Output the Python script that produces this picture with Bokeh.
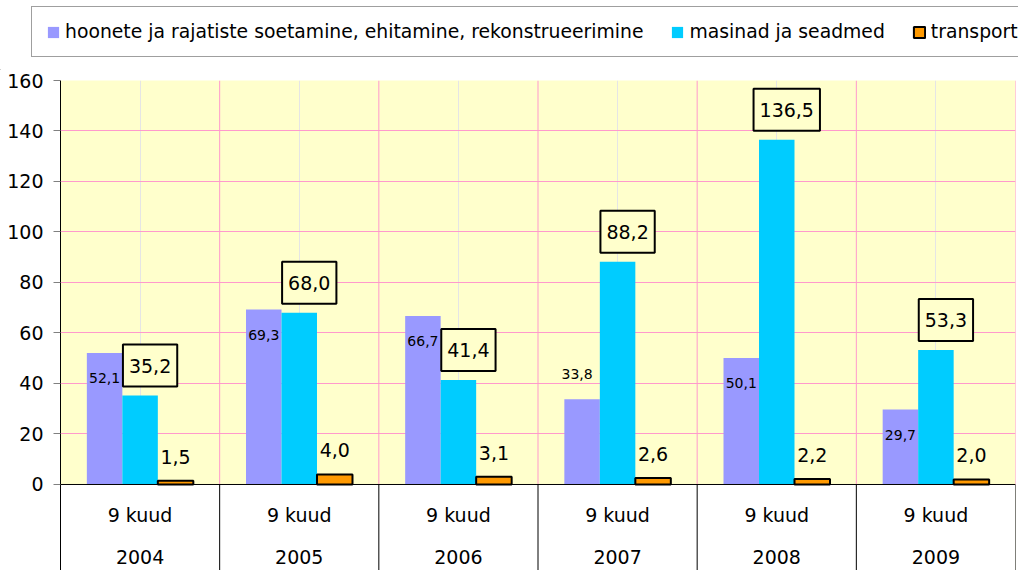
from bokeh.plotting import figure
from bokeh.layouts import column
from bokeh.models import ColumnDataSource, FactorRange, Range1d, FixedTicker, Span, Legend, LegendItem
from bokeh.transform import dodge
from bokeh.core.properties import value
from bokeh.embed import file_html
from bokeh.resources import INLINE

# ---- data ----
years = ["2004", "2005", "2006", "2007", "2008", "2009"]
period = "9 kuud"
hoonete = [52.1, 69.3, 66.7, 33.8, 50.1, 29.7]
masinad = [35.2, 68.0, 41.4, 88.2, 136.5, 53.3]
transport = [1.5, 4.0, 3.1, 2.6, 2.2, 2.0]
series_names = [
    "hoonete ja rajatiste soetamine, ehitamine, rekonstrueerimine",
    "masinad ja seadmed",
    "transport",
]
y_ticks = [0, 20, 40, 60, 80, 100, 120, 140, 160]
hoonete_label_inside = [True, True, True, False, True, True]

# ---- style ----
FONT = "DejaVu Sans"
PURPLE, CYAN, ORANGE = "#9999FF", "#00CCFF", "#FF9900"
PLOT_BG, GRID = "#FFFFCC", "#FF99CC"
BAR_W = 0.223
bar_styles = [
    dict(fill_color=PURPLE, line_color=None),
    dict(fill_color=CYAN, line_color=None),
    dict(fill_color=ORANGE, line_color="black", line_width=2),
]


def fmt(v):
    return f"{v:.1f}".replace(".", ",")


src = ColumnDataSource(dict(
    year=years,
    period=[period] * len(years),
    hoonete=hoonete,
    masinad=masinad,
    transport=transport,
    h_lbl=[fmt(v) for v in hoonete],
    m_lbl=[fmt(v) for v in masinad],
    t_lbl=[fmt(v) for v in transport],
    h_xoff=[0 if f else -5 for f in hoonete_label_inside],
    h_yoff=[25 if f else -25 for f in hoonete_label_inside],
))

# ---------------- legend strip (top) ----------------
top = figure(
    x_range=Range1d(0, 1), y_range=Range1d(0, 1),
    width=1018, height=70,
    output_backend="svg", toolbar_location=None,
    x_axis_location=None, y_axis_location=None,
    min_border=0, min_border_left=0, min_border_right=0, min_border_top=0, min_border_bottom=0,
    background_fill_color="white", border_fill_color="white", outline_line_color=None,
)
top.grid.grid_line_color = None
top.grid.visible = False
legend_renderers = [top.vbar(x=[-10], top=[-10], width=0.1, **st) for st in bar_styles]

legend = Legend(
    items=[LegendItem(label=name, renderers=[r]) for name, r in zip(series_names, legend_renderers)],
    orientation="horizontal",
    location=(31, 13),
    label_text_font=FONT, label_text_font_size="18.8px", label_text_color="black",
    glyph_width=14, glyph_height=14, label_standoff=5, spacing=27,
    padding=14, margin=0,
    border_line_color="#404040", border_line_width=1,
    background_fill_color="white", background_fill_alpha=1,
)
top.add_layout(legend)

# ---------------- main chart ----------------
p = figure(
    x_range=FactorRange(factors=years, range_padding=0),
    y_range=Range1d(-34.06, 160),
    width=1018, height=500,
    output_backend="svg", toolbar_location=None,
    x_axis_location=None,
    min_border_left=60, min_border_right=3, min_border_top=10, min_border_bottom=0,
    background_fill_color=PLOT_BG, border_fill_color="white",
    outline_line_color=None,
)

for fig in (top, p):
    if "frame_align" in fig.properties():
        fig.frame_align = False

# y axis
p.yaxis.ticker = FixedTicker(ticks=y_ticks)
p.yaxis.axis_line_color = "black"
p.yaxis.major_tick_line_color = "#808080"
p.yaxis.major_tick_out = 7
p.yaxis.major_tick_in = 0
p.yaxis.minor_tick_line_color = None
p.yaxis.major_label_standoff = 10
p.yaxis.major_label_text_font = FONT
p.yaxis.major_label_text_font_size = "19px"
p.yaxis.major_label_text_color = "black"
p.ygrid.grid_line_color = GRID
p.ygrid.grid_line_width = 1

bounds = list(range(len(years) + 1))

# white table area below zero
p.quad(left=-0.1, right=len(years) + 0.1, bottom=-60, top=0, fill_color="white", line_color=None)
# vertical pink grid lines at category boundaries
p.segment(x0=bounds, y0=0, x1=bounds, y1=160, line_color=GRID, line_width=1)
# black separators in the category table
p.segment(x0=bounds, y0=-60, x1=bounds, y1=0, line_color="black", line_width=1)

# bars
for i, col in enumerate(["hoonete", "masinad", "transport"]):
    p.vbar(x=dodge("year", (i - 1) * BAR_W, range=p.x_range), top=col, width=BAR_W,
           source=src, **bar_styles[i])

p.add_layout(Span(location=0, dimension="width", line_color="black", line_width=1))

# value labels
p.text(x=dodge("year", -BAR_W, range=p.x_range), y="hoonete", text="h_lbl", source=src,
       x_offset="h_xoff", y_offset="h_yoff", text_align="center", text_baseline="middle",
       text_font=value(FONT), text_font_size="14px", text_color="black")
p.text(x=dodge("year", 0, range=p.x_range), y="masinad", text="m_lbl", source=src,
       x_offset=10, y_offset=-30, text_align="center", text_baseline="middle",
       text_font=value(FONT), text_font_size="19px", text_color="black",
       background_fill_color=PLOT_BG, border_line_color="black", border_line_width=2,
       padding=(6, 14))
p.text(x=dodge("year", BAR_W, range=p.x_range), y="transport", text="t_lbl", source=src,
       y_offset=-24, text_align="center", text_baseline="middle",
       text_font=value(FONT), text_font_size="19px", text_color="black")

# category table labels
p.text(x="year", y=0, text="period", source=src, y_offset=31, text_align="center",
       text_baseline="middle", text_font=value(FONT), text_font_size="19px", text_color="black")
p.text(x="year", y=0, text="year", source=src, y_offset=73, text_align="center",
       text_baseline="middle", text_font=value(FONT), text_font_size="19px", text_color="black")

open("out.html", "w").write(file_html(column(top, p, spacing=0), INLINE))
